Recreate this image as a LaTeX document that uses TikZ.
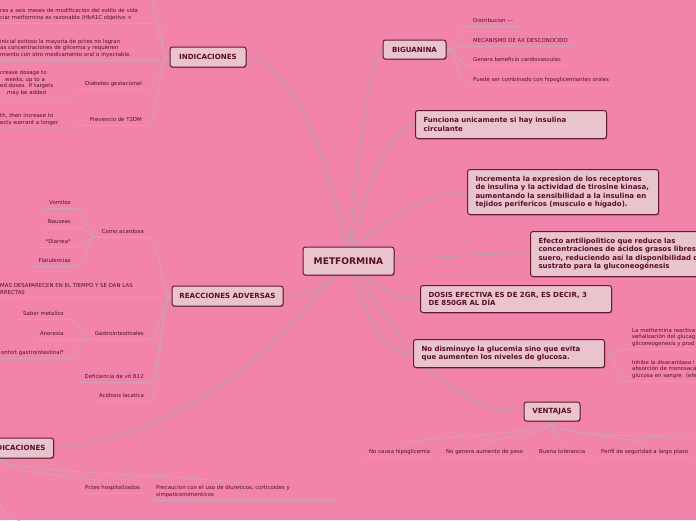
\documentclass[tikz,border=0pt]{standalone}
\usepackage{fontspec}
\setmainfont{DejaVu Sans}
\usetikzlibrary{shadows}
\definecolor{bgc}{HTML}{F283AA}
\definecolor{boxc}{HTML}{E8C5CD}
\definecolor{bord}{HTML}{641A30}
\definecolor{txt}{HTML}{5C0C28}
\definecolor{ltxt}{HTML}{4E1428}
\definecolor{linec}{HTML}{ADA3A8}
\definecolor{ulc}{HTML}{C6A6B4}
\pgfdeclarelayer{back}
\pgfdeclarelayer{lines}
\pgfsetlayers{back,lines,main}
\tikzset{
 topic/.style={draw=bord, fill=boxc, rounded corners=2.5pt, line width=1pt, text=txt,
   font=\bfseries\fontsize{7.1}{8}\selectfont, inner sep=0pt,
   drop shadow={shadow xshift=0.7pt, shadow yshift=-0.9pt, opacity=0.35, fill=black}},
 maintopic/.style={topic, font=\bfseries\fontsize{9.1}{10}\selectfont, minimum width=91pt, minimum height=28pt},
 parabox/.style={topic, font=\bfseries\fontsize{7}{8.3}\selectfont, align=left, text width=175pt, inner xsep=8pt, anchor=north west},
 leaf/.style={text=ltxt, font=\fontsize{5.4}{6.6}\selectfont, inner xsep=5pt, inner ysep=2.6pt, text height=4pt, text depth=1.2pt},
 mleaf/.style={text=ltxt, font=\fontsize{5.4}{6.6}\selectfont, inner xsep=5pt, inner ysep=2.4pt, align=left},
 conn/.style={draw=linec, line width=1.1pt},
 lconn/.style={draw=ulc, line width=0.8pt},
}
\begin{document}
\begin{tikzpicture}[x=1pt,y=-1pt]
\useasboundingbox (0,0) rectangle (696,520);
\begin{pgfonlayer}{back}
\fill[bgc] (0,0) rectangle (696,520);
\end{pgfonlayer}

% main topics
\node[maintopic] (met) at (348.5,261) {METFORMINA};
\node[topic, minimum width=76pt, minimum height=20pt] (ind) at (208,57) {INDICACIONES};
\node[topic, minimum width=63pt, minimum height=19pt] (big) at (414.5,49.5) {BIGUANINA};
\node[topic, minimum width=111pt, minimum height=20pt] (rea) at (227.5,296) {REACCIONES ADVERSAS};
\node[topic, minimum height=20pt, inner xsep=8pt, anchor=east] (con) at (54,448) {CONTRAINDICACIONES};
\node[topic, minimum width=56pt, minimum height=19pt] (ven) at (552,411.5) {VENTAJAS};

% paragraph boxes
\node[parabox, minimum height=28pt] (fun) at (415,110) {\mbox{Funciona unicamente si hay insulina}\\\mbox{circulante}};
\node[parabox, minimum height=45pt] (inc) at (467,169) {\mbox{Incrementa la expresion de los receptores}\\\mbox{de insulina y la actividad de tirosine kinasa,}\\\mbox{aumentando la sensibilidad a la insulina en}\\\mbox{tejidos perifericos (musculo e hígado).}};
\node[parabox, minimum height=45pt] (efe) at (530,231) {\mbox{Efecto antilipolitico que reduce las}\\\mbox{concentraciones de ácidos grasos libres}\\\mbox{suero, reduciendo así la disponibilidad de}\\\mbox{sustrato para la gluconeogénesis}};
\node[parabox, minimum height=27pt] (dos) at (420,285) {\mbox{DOSIS EFECTIVA ES DE 2GR, ES DECIR, 3}\\\mbox{DE 850GR AL DÍA}};
\node[parabox, minimum height=28pt] (nod) at (413,339) {\mbox{No disminuye la glucemia sino que evita}\\\mbox{que aumenten los niveles de glucosa.}};

% BIGUANINA leaves
\node[leaf, anchor=south west] (b1) at (468,26) {Distribucion -\kern0pt-\kern0pt-};
\node[leaf, anchor=south west] (b2) at (468,46) {MECANISMO DE AX DESCONOCIDO};
\node[leaf, anchor=south west] (b3) at (468,65) {Genera beneficio cardiovascular.};
\node[leaf, anchor=south west] (b4) at (468,85) {Puede ser combinado con hipoglicemiantes orales};

% INDICACIONES leaves
\node[mleaf, anchor=south west, text width=150pt] (iA) at (-5,23) {res a seis meses de modificación del estilo de vida\\ciar metformina es razonable (HbA1C objetivo <};
\node[mleaf, anchor=south west, text width=152pt] (iB) at (-5,60) {inicial exitoso la mayoria de pctes no logran\\as concentraciones de glicemia y requieren\\miento con otro medicamento oral o inyectable.};
\node[leaf, anchor=south east] (iD) at (147,89) {Diabetes gestacional};
\node[mleaf, anchor=south west, text width=65pt] (iDc) at (-5,98) {crease dosage to\\\hspace*{5pt}weeks, up to a\\ed doses. If targets\\\hspace*{7pt}may be added};
\node[leaf, anchor=south east] (iP) at (147,125) {Prevencio de T2DM};
\node[mleaf, anchor=south west, text width=68pt] (iPc) at (-5,128) {th, then increase to\\ects warrant a longer};
\coordinate (iT) at (150,-10);

% REACCIONES leaves
\node[leaf, anchor=south east] (rC) at (149,237) {Como acardosa};
\node[mleaf, anchor=south west, text width=160pt] (rM) at (-5,297) {MAS DESAPARECEN EN EL TIEMPO Y SE DAN LAS\\RRECTAS};
\node[leaf, anchor=south east] (rG) at (149,339) {Gastrointestinales};
\node[leaf, anchor=south east] (rD) at (149,382) {Deficiencia de vit B12};
\node[leaf, anchor=south east] (rA) at (149,401) {Acidosis lacatica};
\node[leaf, anchor=south east] (c1) at (76,208) {Vomitos};
\node[leaf, anchor=south east] (c2) at (76,227) {Nauseas};
\node[leaf, anchor=south east] (c3) at (76,247) {*Diarrea*};
\node[leaf, anchor=south east] (c4) at (76,266) {Flatulencias};
\node[leaf, anchor=south east] (g1) at (69,319) {Sabor metalico};
\node[leaf, anchor=south east] (g2) at (69,339) {Anorexia};
\node[leaf, anchor=south east] (g3) at (69,358) {onfort gastrointestinal*};

% CONTRAINDICACIONES leaves
\node[leaf, anchor=south west] (cP) at (80,493) {Pctes hospitalizados};
\node[mleaf, anchor=south west, text width=174pt] (cQ) at (151,500) {Precaucion con el uso de diureticos, corticoides y\\simpaticomimenticos};
\coordinate (cB) at (28,526);

% No disminuye leaves
\node[mleaf, anchor=south west, text width=80pt] (n1) at (627,349) {La metformina reactiva\\señalización del glucag\\gliconeogenesis y prod};
\node[mleaf, anchor=south west, text width=80pt] (n2) at (627,381) {Inhibe la disacaridasa i\\absorción de monosacá\\glucosa en sangre. (efe};

% VENTAJAS leaves
\node[leaf, anchor=south west] (v1) at (364,457) {No causa hipoglicemia};
\node[leaf, anchor=south west] (v2) at (441,457) {No genera aumento de peso};
\node[leaf, anchor=south west] (v3) at (534,457) {Buena tolerancia};
\node[leaf, anchor=south west] (v4) at (596,457) {Perfil de seguridad a largo plazo};
\coordinate (vR) at (705,437);

\begin{pgfonlayer}{lines}
% main connectors
\draw[conn] ([xshift=-3pt]met.north) .. controls (325,140) and (285,57) .. (ind.east);
\draw[conn] ([xshift=1pt]met.north) .. controls (355,180) and (368,60) .. (big.west);
\draw[conn] ([xshift=3pt]met.north) .. controls (365,190) and (390,126) .. (fun.west);
\draw[conn] ([xshift=7pt]met.north) .. controls (385,220) and (430,192) .. (inc.west);
\draw[conn] ([yshift=3pt]met.east) .. controls (450,258) and (480,253) .. (efe.west);
\draw[conn] ([xshift=16pt]met.south) .. controls (385,292) and (400,298) .. (dos.west);
\draw[conn] ([xshift=6pt]met.south) .. controls (365,320) and (385,353) .. (nod.west);
\draw[conn] ([xshift=10pt]met.south) .. controls (398,340) and (450,412) .. (ven.west);
\draw[conn] ([xshift=-12pt]met.south) .. controls (320,290) and (300,296) .. (rea.east);
\draw[conn] ([xshift=-14pt]met.south) .. controls (280,340) and (195,435) .. (con.east);

% BIGUANINA
\foreach \n in {b1,b2,b3,b4}{
  \draw[lconn] (big.east) .. controls +(11,0) and +(-10,0) .. (\n.south west);
  \draw[lconn] (\n.south west) -- (\n.south east);
}
% INDICACIONES
\foreach \n in {iA,iB,iD,iP}{
  \draw[lconn] (ind.west) .. controls +(-10,0) and +(10,0) .. (\n.south east);
  \draw[lconn] (\n.south west) -- (\n.south east);
}
\draw[lconn] (ind.west) .. controls +(-10,0) and +(4,10) .. (iT);
\draw[lconn] (iDc.south west) -- (iDc.south east) .. controls +(8,0) and +(-8,0) .. (iD.south west);
\draw[lconn] (iPc.south west) -- (iPc.south east) .. controls +(8,0) and +(-8,0) .. (iP.south west);

% REACCIONES
\foreach \n in {rC,rM,rG,rD,rA}{
  \draw[lconn] (rea.west) .. controls +(-10,0) and +(10,0) .. (\n.south east);
  \draw[lconn] (\n.south west) -- (\n.south east);
}
\foreach \n in {c1,c2,c3,c4}{
  \draw[lconn] (rC.south west) .. controls +(-10,0) and +(10,0) .. (\n.south east);
  \draw[lconn] (\n.south west) -- (\n.south east);
}
\foreach \n in {g1,g2,g3}{
  \draw[lconn] (rG.south west) .. controls +(-10,0) and +(10,0) .. (\n.south east);
  \draw[lconn] (\n.south west) -- (\n.south east);
}

% CONTRAINDICACIONES
\draw[lconn] (con.south) .. controls +(0,14) and +(-40,-6) .. (cP.north);
\draw[lconn] (con.south) .. controls +(0,14) and +(-90,-10) .. (cQ.north);
\draw[lconn] (con.south) .. controls +(-8,62) and +(-23,-16) .. (cB);
\draw[lconn] (cP.south west) -- (cP.south east);
\draw[lconn] (cQ.south west) -- (cQ.south east);

% No disminuye
\foreach \n in {n1,n2}{
  \draw[lconn] (nod.east) .. controls +(12,0) and +(-10,0) .. (\n.south west);
  \draw[lconn] (\n.south west) -- (\n.south east);
}

% VENTAJAS
\foreach \n in {v1,v2,v3,v4}{
  \draw[lconn] (ven.south) .. controls +(0,14) and +(0,-10) .. (\n.north);
  \draw[lconn] (\n.south west) -- (\n.south east);
}
\draw[lconn] (ven.south) .. controls +(0,14) and +(-60,0) .. (vR);
\end{pgfonlayer}
\end{tikzpicture}
\end{document}
